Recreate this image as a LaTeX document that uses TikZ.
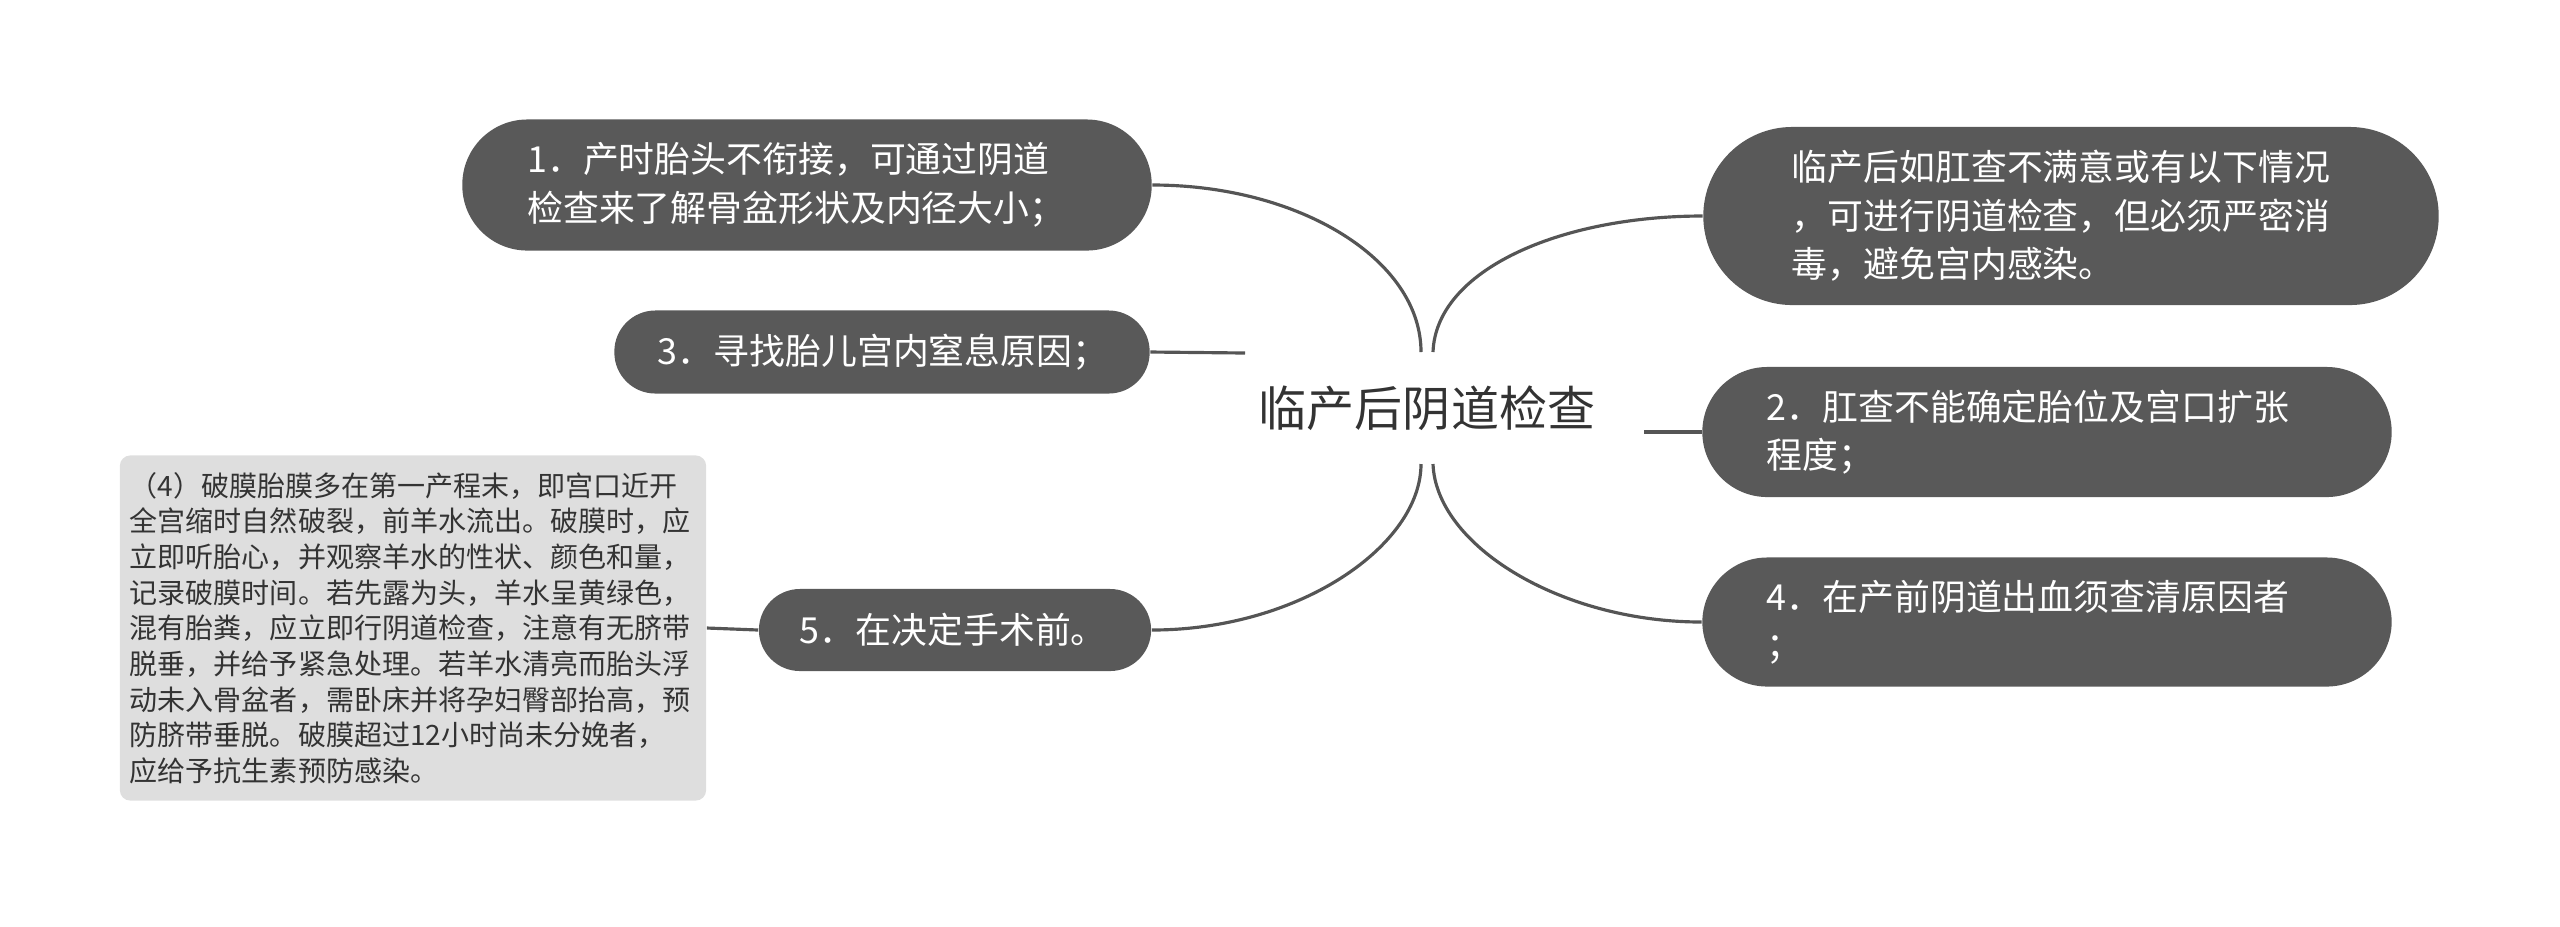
\documentclass[tikz,border=0pt]{standalone}
\usepackage{fontspec}
\setmainfont{Noto Sans CJK SC}
\usepackage{tikz}
\usetikzlibrary{positioning}
\definecolor{topicgray}{HTML}{595959}
\definecolor{linegray}{HTML}{555555}
\definecolor{notegray}{HTML}{DEDEDE}
\definecolor{notetext}{HTML}{333333}

\begin{document}
\begin{tikzpicture}[
  x=0.01cm, y=-0.01cm,
  topic/.style={fill=topicgray, text=white, align=left, inner sep=0pt, font=\fontsize{10.2pt}{13.8pt}\selectfont},
  note/.style={fill=notegray, text=notetext, rounded corners=3pt, align=left, inner sep=0pt, font=\fontsize{7.97pt}{10.13pt}\selectfont},
  branch/.style={draw=linegray, line width=0.9pt}
]
\useasboundingbox (0,0) rectangle (2560,926);

\node[font=\fontsize{13.66pt}{16pt}\selectfont, text=notetext] (root) at (1427,408) {临产后阴道检查};
\coordinate (rootnw) at (1421,352);
\coordinate (rootne) at (1433,352);
\coordinate (rootsw) at (1421,464);
\coordinate (rootse) at (1433,464);
\coordinate (rootw) at (1245,353);
\coordinate (roote) at (1644,432);

\node[topic, rounded corners=0.65cm, minimum width=6.89cm, minimum height=1.31cm, text width=5.59cm] (n1) at (807,185) {1．产时胎头不衔接，可通过阴道\\检查来了解骨盆形状及内径大小；};
\node[topic, rounded corners=0.41cm, minimum width=5.35cm, minimum height=0.83cm, text width=4.48cm] (n3) at (882,352) {3．寻找胎儿宫内窒息原因；};
\node[topic, rounded corners=0.41cm, minimum width=3.92cm, minimum height=0.82cm, text width=3.10cm] (n5) at (955,630) {5．在决定手术前。};
\node[note, minimum width=5.86cm, minimum height=3.45cm, text width=5.66cm] (n5note) at (413,628) {（4）破膜胎膜多在第一产程末，即宫口近开\\全宫缩时自然破裂，前羊水流出。破膜时，应\\立即听胎心，并观察羊水的性状、颜色和量，\\记录破膜时间。若先露为头，羊水呈黄绿色，\\混有胎粪，应立即行阴道检查，注意有无脐带\\脱垂，并给予紧急处理。若羊水清亮而胎头浮\\动未入骨盆者，需卧床并将孕妇臀部抬高，预\\防脐带垂脱。破膜超过12小时尚未分娩者，\\应给予抗生素预防感染。};

\node[topic, rounded corners=0.89cm, minimum width=7.35cm, minimum height=1.78cm, text width=5.58cm] (r1) at (2071,216) {临产后如肛查不满意或有以下情况\\，可进行阴道检查，但必须严密消\\毒，避免宫内感染。};
\node[topic, rounded corners=0.65cm, minimum width=6.89cm, minimum height=1.30cm, text width=5.60cm] (r2) at (2047,432) {2．肛查不能确定胎位及宫口扩张\\程度；};
\node[topic, rounded corners=0.65cm, minimum width=6.89cm, minimum height=1.29cm, text width=5.60cm] (r4) at (2047,622) {4．在产前阴道出血须查清原因者\\；};

% branches
\draw[branch] (n1.east) .. controls (1300,185) and (1421,260) .. (rootnw);
\draw[branch] (n3.east) -- (rootw);
\draw[branch] (n5.east) .. controls (1300,630) and (1421,545) .. (rootsw);
\draw[branch] (n5.west) -- (n5note.east);
\draw[branch] (rootne) .. controls (1436,270) and (1560,216) .. (r1.west);
\draw[branch] (roote) -- (r2.west);
\draw[branch] (rootse) .. controls (1436,545) and (1560,622) .. (r4.west);
\end{tikzpicture}
\end{document}
